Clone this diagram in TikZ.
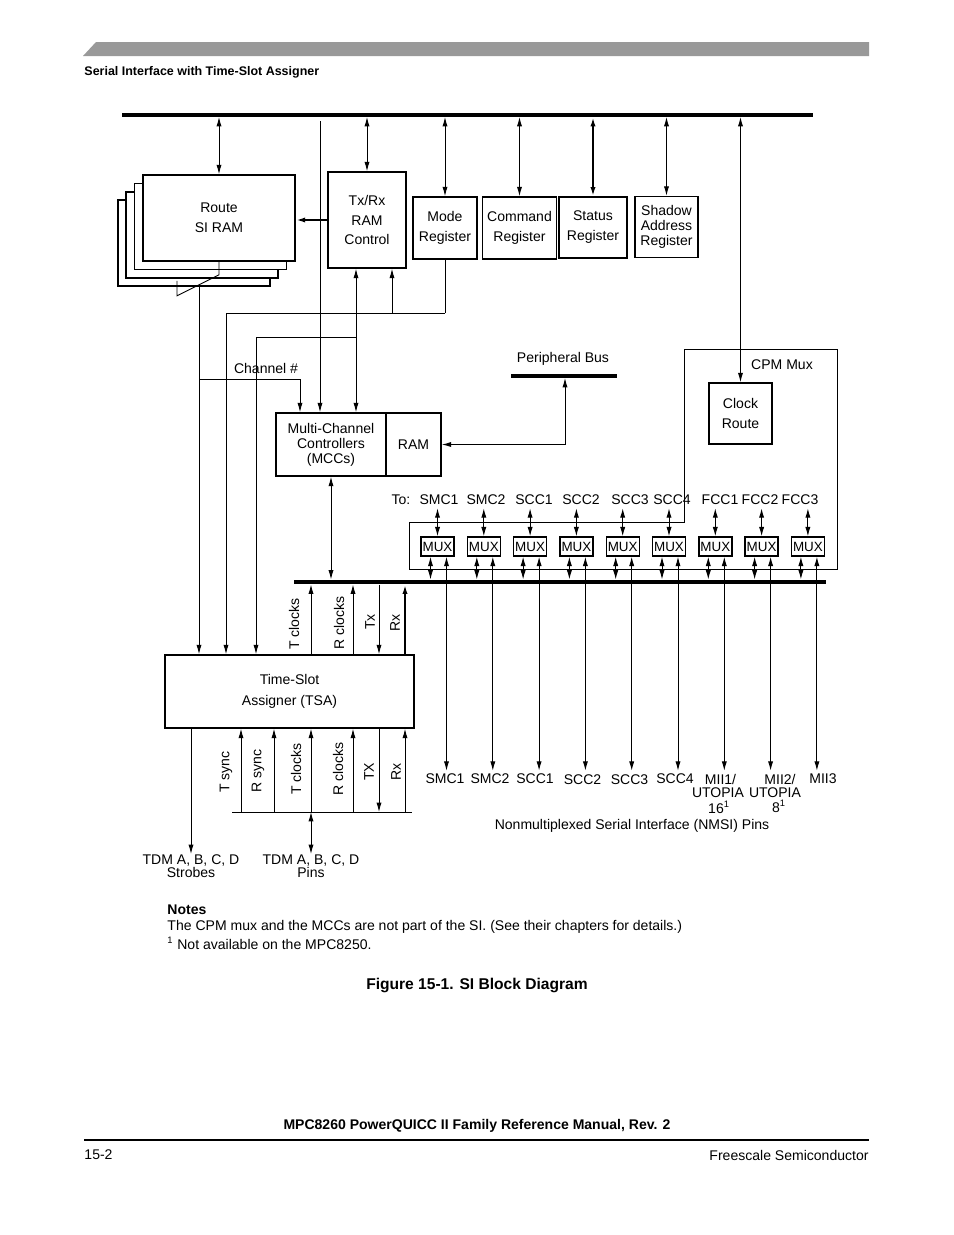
\documentclass[tikz,border=0pt]{standalone}
\usepackage{fontspec}
\setmainfont{Liberation Sans}
\usetikzlibrary{arrows.meta}

\newcommand{\pxl}{0.6415pt}

\begin{document}
\begin{tikzpicture}[x=0.6415pt,y=-0.6415pt,line width=0.6pt,
    >={Latex[length=6pt,width=3.3pt]},
    every node/.style={font=\fontsize{9}{12.8}\selectfont,inner sep=0pt},
    wh/.style 2 args={minimum width=#1*\pxl,minimum height=#2*\pxl},
    box/.style={draw,line width=1pt,fill=white,align=center},
    tight/.style={font=\fontsize{9}{9.6}\selectfont},
    mux/.style={draw,line width=0.9pt,wh={33}{19},font=\fontsize{8.6}{10}\selectfont},
    bus/.style={line width=3pt}]
\useasboundingbox (0,0) rectangle (954,1235);

% page header and footer
\fill[gray!80] (83,56) -- (96,42) -- (869,42) -- (869,56) -- cycle;
\node[anchor=west,font=\bfseries\fontsize{8}{9}\selectfont] (hdr) at (84,72) {Serial Interface with Time-Slot Assigner};
\node[font=\bfseries\fontsize{9}{11}\selectfont] (man) at (477,1126) {MPC8260 PowerQUICC II Family Reference Manual, Rev. 2};
\draw[line width=0.8pt] (84,1140) -- (869,1140);
\node[anchor=west] (pg) at (84,1155) {15-2};
\node[anchor=east] (fs) at (869,1155) {Freescale Semiconductor};

% buses
\draw[bus] (122,115) -- (813,115);
\coordinate (tb) at (0,117);
\draw[bus] (294,582) -- (826,582);
\coordinate (lbt) at (0,579.5);
\coordinate (lbb) at (0,584.5);

% route SI RAM stack
\foreach \k in {3,2,1}
  \node[box,wh={152}{86}] (rs\k) at (219-8.4*\k,218+8.4*\k) {};
\node[box,wh={152}{86}] (rs) at (219,218) {Route\\SI RAM};
\draw (rs.south) -- ++(0,13) coordinate (sa) -- ++(-42,21) coordinate (sb) -- ++(0,-15);
\coordinate (sel) at (199,284);

\node[box,wh={78}{96}] (txrx) at (367,220) {Tx/Rx\\RAM\\Control};
\draw[->,line width=1.3pt] (txrx.west) -- (txrx.west -| rs.east);

% registers
\node[box,wh={64}{62}] (mode) at (445,228) {Mode\\Register};
\node[box,wh={74}{62}] (cmd) at (519.5,228) {Command\\Register};
\node[box,wh={68}{61},line width=0.7pt] (stat) at (593,227.5) {Status\\Register};
\node[box,wh={63}{61},tight] (shad) at (666.5,227) {Shadow\\Address\\Register};

% CPM mux
\draw (684,349) -- (837,349) -- (837,569) -- (409,569) -- (409,522) -- (684,522) -- cycle;
\node (cpm) at (782,365) {CPM Mux};
\node[box,wh={63}{61}] (clk) at (740.5,413.5) {Clock\\Route};

\draw[<->] (rs.north) -- (rs.north |- tb);
\draw[<->] (txrx.north) -- (txrx.north |- tb);
\draw[<->] (mode.north) -- (mode.north |- tb);
\draw[<->] (cmd.north) -- (cmd.north |- tb);
\draw[<->,line width=1.2pt] (stat.north) -- (stat.north |- tb);
\draw[<->] (shad.north) -- (shad.north |- tb);
\draw[<->] (clk.north) -- (clk.north |- tb);

% MCCs
\node[box,wh={110}{63},tight] (mcc) at (331,444.5) {Multi-Channel\\Controllers\\(MCCs)};
\node[box,wh={55}{63}] (ram) at (413.5,444.5) {RAM};
\draw[bus] (511,376) -- (617,376);
\node (pbus) at (563,359) {Peripheral Bus};
\draw[<->] (ram.east) -| (565,378);
\draw[<->] (mcc.south) -- (mcc.south |- lbt);

% TSA
\node[box,wh={249}{73}] (tsa) at (289.5,691.5) {Time-Slot\\[0.7pt]Assigner (TSA)};

\draw (mode.south) -- (mode.south |- 0,313) coordinate (mj);
\draw[->] (mj) -| (392,0 |- txrx.south);
\draw[->] (mj) -| (226,0 |- tsa.north);
\draw[<->] (356,0 |- txrx.south) -- (356,0 |- mcc.north);
\draw[->] (356,337) -| (256,0 |- tsa.north);
\draw[->] (320,121) -- (320,0 |- mcc.north);
\draw[->] (sel |- 0,379) -| (300,0 |- mcc.north);
\draw[->] (sel) -- (sel |- tsa.north);
\node (chn) at (266,368) {Channel \#};

\foreach \x in {311,353}
  \draw[->] (\x,0 |- tsa.north) -- (\x,0 |- lbb);
\draw[->] (379,0 |- lbb) -- (379,0 |- tsa.north);
\draw[->,line width=1.2pt] (405,0 |- tsa.north) -- (405,0 |- lbb);
\node[rotate=90] (tck) at (294,624) {T clocks};
\node[rotate=90] (rck) at (339,623) {R clocks};
\node[rotate=90] (tx) at (370,622) {Tx};
\node[rotate=90] (rx) at (395,623) {Rx};

% pins side of TSA
\coordinate (pl) at (0,812);
\draw (232,812) -- (412,812);
\foreach \x in {241,274,311,353,405}
  \draw[->] (\x,0 |- pl) -- (\x,0 |- tsa.south);
\draw[->] (379,0 |- tsa.south) -- (379,0 |- pl);
\node[rotate=90] (tsy) at (226,772) {T sync};
\node[rotate=90] (rsy) at (258,771) {R sync};
\node[rotate=90] (tck2) at (296,769) {T clocks};
\node[rotate=90] (rck2) at (338,769) {R clocks};
\node[rotate=90] (tx2) at (369,772) {TX};
\node[rotate=90] (rx2) at (396,772) {Rx};

\node[align=center,font=\fontsize{9}{8.4}\selectfont] (strb) at (191,866) {TDM A, B, C, D\\Strobes};
\node[align=center,font=\fontsize{9}{8.4}\selectfont] (pins) at (311,866) {TDM A, B, C, D\\Pins};
\draw[->] (191,0 |- tsa.south) -- (strb.north);
\draw[<->] (311,0 |- pl) -- (pins.north);

% mux row
\node (to) at (401,500) {To:};
\foreach \lab/\lx [count=\i from 0] in {SMC1/439,SMC2/486,SCC1/534,SCC2/581,SCC3/630,SCC4/672,FCC1/720,FCC2/760,FCC3/800} {
  \pgfmathsetmacro\cx{437.5+46.3*\i}
  \node[mux] (mux\i) at (\cx,546.5) {MUX};
  \node (to\i) at (\lx,500) {\lab};
  \draw[<->] (mux\i.north) -- ++(0,-28);
  \draw[<->] ([xshift=-7*\pxl]mux\i.south) -- ([xshift=-7*\pxl]mux\i.south |- lbt);
  \draw[<->] ([xshift=9*\pxl]mux\i.south) -- ++(0,214);
}

% NMSI pins
\node (p0) at (445,779) {SMC1};
\node (p1) at (490,779) {SMC2};
\node (p2) at (535,779) {SCC1};
\node (p3) at (582.5,780) {SCC2};
\node (p4) at (629.5,780) {SCC3};
\node (p5) at (675,779) {SCC4};
\node (p6a) at (720.5,779) {MII1/};
\node (p6b) at (718,793) {UTOPIA};
\node (p6c) at (719,807) {16\textsuperscript{1}};
\node (p7a) at (780,779) {MII2/};
\node (p7b) at (775,793) {UTOPIA};
\node (p7c) at (779,806) {8\textsuperscript{1}};
\node (p8) at (823,779) {MII3};
\node (nmsi) at (632,826) {Nonmultiplexed Serial Interface (NMSI) Pins};

% notes and caption
\node[anchor=west,font=\bfseries\fontsize{9}{11}\selectfont] (notes) at (167,910) {Notes};
\node[anchor=west] (note1) at (167,927) {The CPM mux and the MCCs are not part of the SI. (See their chapters for details.)};
\node[anchor=west] (note2) at (167,943) {\textsuperscript{1} Not available on the MPC8250.};
\node[font=\bfseries\fontsize{10}{12}\selectfont] (cap) at (477,985) {Figure 15-1. SI Block Diagram};
\end{tikzpicture}
\end{document}
